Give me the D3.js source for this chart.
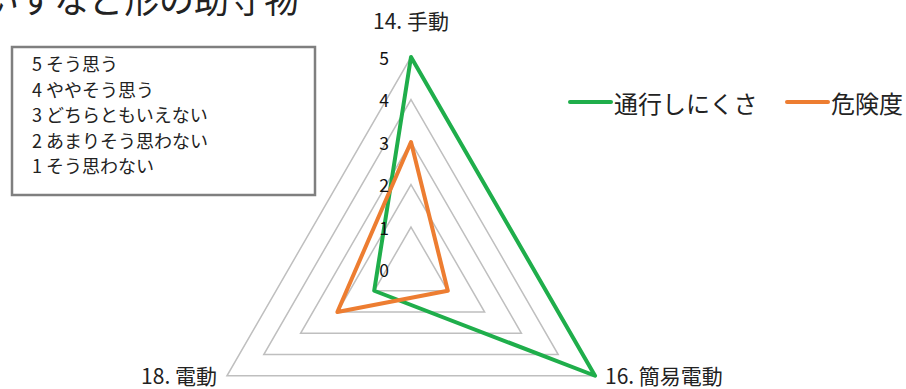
<!DOCTYPE html>
<html>
<head>
<meta charset="utf-8">
<script src="https://cdn.jsdelivr.net/npm/d3@7"></script>
<style>
  body { margin: 0; background: #fff; }
  svg { display: block; }
  text { font-family: "Noto Sans CJK JP", "Noto Sans", sans-serif; }
</style>
</head>
<body>
<svg id="chart" width="906" height="389"></svg>
<script>
const axisLabels = ['14. 手動', '16. 簡易電動', '18. 電動'];
const seriesNames = ['通行しにくさ', '危険度'];
const difficulty = [5, 5, 1];   // 通行しにくさ
const danger = [3, 1, 2];       // 危険度
const levels = [0, 1, 2, 3, 4, 5];
const scaleNotes = ['5 そう思う', '4 ややそう思う', '3 どちらともいえない', '2 あまりそう思わない', '1 そう思わない'];
const titleText = 'いすなど形の助守物';
const colors = ['#1fae4b', '#ed7d31'];

const svg = d3.select('#chart');
const cx = 411, cy = 269.5;
const r = d3.scaleLinear().domain([0, 5]).range([0, 212.5]);
const angle = d3.scaleLinear().domain([0, axisLabels.length]).range([0, 2 * Math.PI]);
const pt = (i, v) => [cx + r(v) * Math.sin(angle(i)), cy - r(v) * Math.cos(angle(i))];
const line = d3.line().curve(d3.curveLinearClosed);

// title, mostly above the top edge (clipped like the source)
svg.append('text')
    .attr('x', -16).attr('y', 13)
    .attr('font-size', 35)
    .attr('fill', '#222')
    .text(titleText);

// grid triangles (level 0 is the centre)
svg.append('g').selectAll('path')
    .data(levels.filter(l => l > 0))
    .join('path')
    .attr('d', l => line(axisLabels.map((_, i) => pt(i, l))))
    .attr('fill', 'none')
    .attr('stroke', '#bfbfbf')
    .attr('stroke-width', 1.5);

// series
const series = [difficulty, danger];
svg.append('g').selectAll('path')
    .data(series)
    .join('path')
    .attr('d', d => line(d.map((v, i) => pt(i, v))))
    .attr('fill', 'none')
    .attr('stroke', (_, k) => colors[k])
    .attr('stroke-width', 4)
    .attr('stroke-linejoin', 'round');

// value labels along the top axis
svg.append('g').selectAll('text')
    .data(levels)
    .join('text')
    .attr('x', cx - 22)
    .attr('y', d => cy - r(d))
    .attr('text-anchor', 'end')
    .attr('dominant-baseline', 'central')
    .attr('font-size', 17.5)
    .attr('fill', '#111')
    .text(d => d);

// axis labels (y is the baseline)
const labelPos = [
    {dx: 0, dy: -28, anchor: 'middle'},
    {dx: 10, dy: 8, anchor: 'start'},
    {dx: -10, dy: 8, anchor: 'end'}
];
svg.append('g').selectAll('text')
    .data(axisLabels)
    .join('text')
    .attr('x', (_, i) => pt(i, 5)[0] + labelPos[i].dx)
    .attr('y', (_, i) => pt(i, 5)[1] + labelPos[i].dy)
    .attr('text-anchor', (_, i) => labelPos[i].anchor)
    .attr('font-size', 21)
    .attr('fill', '#222')
    .text(d => d);

// note box
const note = svg.append('g');
note.append('rect')
    .attr('x', 12).attr('y', 47)
    .attr('width', 303).attr('height', 148)
    .attr('fill', '#fff')
    .attr('stroke', '#7f7f7f')
    .attr('stroke-width', 2.5);
note.selectAll('text')
    .data(scaleNotes)
    .join('text')
    .attr('x', 32)
    .attr('y', (_, i) => 63 + i * 25.5)
    .attr('dominant-baseline', 'central')
    .attr('font-size', 18)
    .attr('fill', '#222')
    .text(d => d);

// legend
const legendX = [570, 787];
const lg = svg.append('g').selectAll('g')
    .data(seriesNames)
    .join('g')
    .attr('transform', (_, i) => `translate(${legendX[i]},102)`);
lg.append('line')
    .attr('x1', 0).attr('x2', 41)
    .attr('stroke', (_, i) => colors[i])
    .attr('stroke-width', 4)
    .attr('stroke-linecap', 'round');
lg.append('text')
    .attr('x', 44)
    .attr('dominant-baseline', 'central')
    .attr('font-size', 24)
    .attr('fill', '#222')
    .text(d => d);
</script>
</body>
</html>
